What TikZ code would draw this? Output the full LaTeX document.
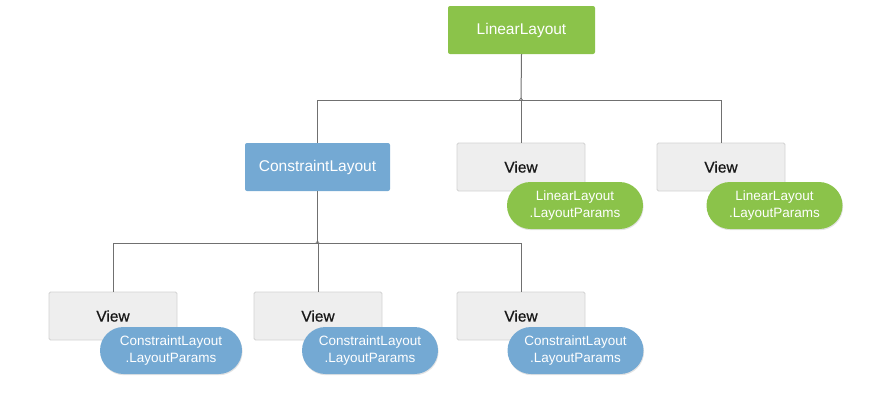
\documentclass[tikz,border=0pt]{standalone}
\usepackage{fontspec}
\setmainfont{Liberation Sans}
\newfontfamily\viewfont[FakeBold=0.6]{Liberation Sans}
\usetikzlibrary{shadows}
\definecolor{llgreen}{HTML}{8BC34A}
\definecolor{clblue}{HTML}{74A9D3}
\definecolor{viewfill}{HTML}{EEEEEE}
\definecolor{viewline}{HTML}{D2D2D2}
\definecolor{conn}{HTML}{707070}
\tikzset{
  parentbox/.style={rounded corners=2pt, minimum height=48pt, inner sep=0pt, text=white,
    font=\fontsize{15.5}{18}\selectfont},
  greenbox/.style={parentbox, fill=llgreen, minimum width=147pt},
  bluebox/.style={parentbox, fill=clblue, minimum width=145pt},
  viewbox/.style={rounded corners=1.5pt, fill=viewfill, draw=viewline, line width=0.8pt,
    minimum width=128pt, minimum height=48pt, inner sep=0pt, text=black!90,
    font=\viewfont\fontsize{15.5}{18}\selectfont},
  pill/.style={rounded corners=23.5pt, minimum height=47pt, inner sep=0pt, text=white,
    align=center, font=\fontsize{13.5}{16.5}\selectfont,
    drop shadow={opacity=0.22, shadow xshift=0.6pt, shadow yshift=-1.2pt}},
  gpill/.style={pill, fill=llgreen, minimum width=136pt},
  bpill/.style={pill, fill=clblue, minimum width=136pt},
  connector/.style={draw=conn, line width=1pt},
}
\begin{document}
\begin{tikzpicture}[x=1pt,y=-1pt]
\useasboundingbox (0,0) rectangle (880,410);
% parents
\node[greenbox] (LL) at (521.5,30) {LinearLayout};
\node[bluebox] (CL) at (317.5,167) {ConstraintLayout};
% top views
\node[viewbox] (V1) at (521,167) {View};
\node[viewbox] (V2) at (721,167) {View};
% bottom views
\node[viewbox] (B1) at (113,316) {View};
\node[viewbox] (B2) at (318,316) {View};
\node[viewbox] (B3) at (521,316) {View};
% junctions
\coordinate (j1) at (521,100);
\coordinate (j2) at (317.5,243);
% connectors
\draw[connector] (LL.south) -- (j1);
\draw[connector] (CL.north) |- (j1);
\draw[connector] (V1.north) -- (j1);
\draw[connector] (V2.north) |- (j1);
\draw[connector] (CL.south) -- (j2);
\draw[connector] (B1.north) |- (j2);
\draw[connector] (B2.north) |- (j2);
\draw[connector] (B3.north) |- (j2);
\draw[connector, line width=0.6pt] ([shift={(-2,0.5)}]j1) -- ([shift={(0,-2)}]j1) -- ([shift={(2,0.5)}]j1);
\draw[connector, line width=0.6pt] ([shift={(-2,0.5)}]j2) -- ([shift={(0,-2)}]j2) -- ([shift={(2,0.5)}]j2);
% layout params pills
\node[gpill] (P1) at (575,205.5) {LinearLayout\\.LayoutParams};
\node[gpill] (P2) at (774.5,205.5) {LinearLayout\\.LayoutParams};
\node[bpill, minimum width=142pt] (Q1) at (171,350.5) {ConstraintLayout\\.LayoutParams};
\node[bpill] (Q2) at (370,350.5) {ConstraintLayout\\.LayoutParams};
\node[bpill] (Q3) at (575.5,350.5) {ConstraintLayout\\.LayoutParams};
\end{tikzpicture}
\end{document}
